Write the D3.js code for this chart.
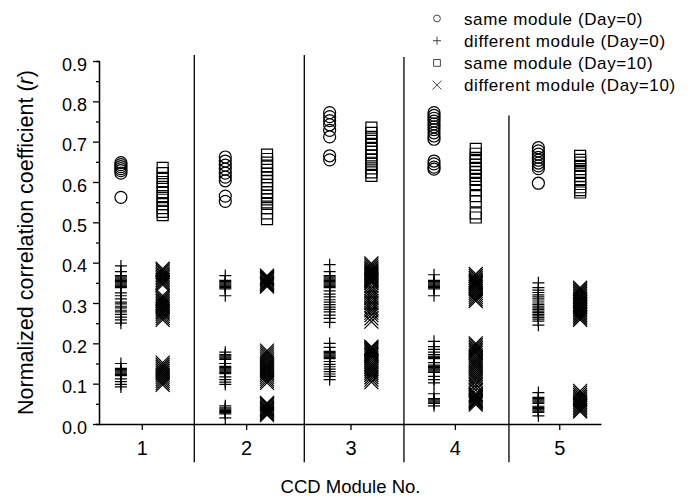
<!DOCTYPE html>
<html>
<head>
<meta charset="utf-8">
<script src="https://cdn.jsdelivr.net/npm/d3@7"></script>
<style>
    body { margin: 0; background: #fff; }
    text { font-family: "Liberation Sans", Arial, sans-serif; fill: #000; }
</style>
</head>
<body>
<div id="chart"></div>
<script>

// CCD modules on the x axis
let modules = [1, 2, 3, 4, 5];

// one list of r values per module
let sameDay0 = [
    [0.648, 0.643, 0.638, 0.633, 0.628, 0.622, 0.562],
    [0.662, 0.652, 0.642, 0.632, 0.622, 0.612, 0.603, 0.565, 0.552],
    [0.772, 0.762, 0.752, 0.742, 0.728, 0.712, 0.665, 0.655],
    [0.772, 0.765, 0.758, 0.751, 0.744, 0.737, 0.730, 0.722, 0.714, 0.706, 0.652, 0.645, 0.637, 0.632],
    [0.685, 0.677, 0.669, 0.661, 0.654, 0.647, 0.640, 0.633, 0.597]
];

let diffDay0 = [
    [0.392, 0.378, 0.368, 0.365, 0.362, 0.359, 0.356, 0.353, 0.350, 0.347, 0.344, 0.341, 0.338, 0.325, 0.318, 0.310, 0.302,
     0.298, 0.292, 0.288, 0.282, 0.278, 0.272, 0.265, 0.258, 0.250,
     0.150, 0.138, 0.135, 0.132, 0.129, 0.126, 0.123, 0.120, 0.112, 0.105, 0.098, 0.092],
    [0.368, 0.356, 0.353, 0.350, 0.347, 0.344, 0.341, 0.338, 0.335, 0.318,
     0.178, 0.172, 0.169, 0.166, 0.163, 0.160, 0.150, 0.143, 0.140, 0.137, 0.134, 0.131, 0.128, 0.125, 0.117, 0.110, 0.104, 0.098,
     0.045, 0.040, 0.037, 0.034, 0.031, 0.028, 0.025, 0.015],
    [0.395, 0.378, 0.368, 0.365, 0.362, 0.359, 0.356, 0.353, 0.350, 0.347, 0.344, 0.341, 0.338, 0.330, 0.322, 0.315, 0.308,
     0.302, 0.296, 0.290, 0.284, 0.278, 0.270, 0.262, 0.252,
     0.200, 0.190, 0.180, 0.177, 0.174, 0.171, 0.168, 0.165, 0.162, 0.155, 0.148, 0.142, 0.136, 0.130, 0.124, 0.118, 0.110],
    [0.370, 0.356, 0.353, 0.350, 0.347, 0.344, 0.341, 0.338, 0.335, 0.318,
     0.205, 0.192, 0.185, 0.178, 0.172, 0.168, 0.165, 0.162, 0.152, 0.146, 0.143, 0.140, 0.137, 0.134, 0.131, 0.128, 0.118, 0.110, 0.102,
     0.075, 0.063, 0.060, 0.057, 0.054, 0.051, 0.045],
    [0.350, 0.338, 0.332, 0.326, 0.320, 0.315, 0.310, 0.305, 0.300, 0.296, 0.292, 0.288, 0.284, 0.280, 0.276, 0.272, 0.268,
     0.264, 0.260, 0.255, 0.245,
     0.078, 0.066, 0.063, 0.060, 0.057, 0.054, 0.051, 0.044, 0.041, 0.038, 0.035, 0.032, 0.029, 0.020]
];

let sameDay10 = [
    [0.635, 0.622, 0.610, 0.600, 0.588, 0.575, 0.565, 0.556, 0.545, 0.535, 0.526, 0.518],
    [0.668, 0.657, 0.648, 0.638, 0.630, 0.620, 0.612, 0.602, 0.593, 0.585, 0.575, 0.566, 0.557, 0.546, 0.535, 0.522, 0.508],
    [0.735, 0.722, 0.712, 0.702, 0.692, 0.682, 0.675, 0.666, 0.656, 0.645, 0.634, 0.624, 0.615],
    [0.682, 0.670, 0.660, 0.652, 0.643, 0.635, 0.625, 0.615, 0.605, 0.595, 0.580, 0.565, 0.552, 0.522, 0.512],
    [0.665, 0.655, 0.648, 0.640, 0.632, 0.625, 0.615, 0.605, 0.595, 0.587, 0.580, 0.574]
];

let diffDay10 = [
    [0.385, 0.381, 0.377, 0.373, 0.369, 0.365, 0.361, 0.357, 0.353, 0.349, 0.345, 0.318, 0.313, 0.309, 0.305, 0.301, 0.297,
     0.293, 0.289, 0.285, 0.281, 0.277, 0.273, 0.268, 0.263, 0.258,
     0.152, 0.147, 0.142, 0.137, 0.132, 0.127, 0.122, 0.117, 0.112, 0.107, 0.102, 0.097],
    [0.368, 0.365, 0.362, 0.359, 0.356, 0.353, 0.350, 0.347, 0.344, 0.341,
     0.182, 0.177, 0.172, 0.167, 0.162, 0.157, 0.152, 0.147, 0.142, 0.137, 0.132, 0.127, 0.122, 0.117, 0.112, 0.107, 0.102,
     0.052, 0.049, 0.046, 0.043, 0.040, 0.037, 0.034, 0.031, 0.028, 0.025, 0.022],
    [0.398, 0.393, 0.388, 0.384, 0.381, 0.378, 0.375, 0.372, 0.369, 0.366, 0.363, 0.360, 0.357, 0.354, 0.350, 0.343, 0.336,
     0.330, 0.324, 0.318, 0.312, 0.306, 0.300, 0.294, 0.288, 0.282, 0.276, 0.270, 0.262, 0.254,
     0.192, 0.189, 0.186, 0.183, 0.180, 0.177, 0.174, 0.171, 0.168, 0.163, 0.157, 0.152, 0.147, 0.142, 0.137, 0.132, 0.127,
     0.122, 0.116, 0.110, 0.104],
    [0.372, 0.367, 0.362, 0.358, 0.355, 0.352, 0.349, 0.346, 0.343, 0.340, 0.335, 0.330, 0.325, 0.320, 0.315, 0.310, 0.305,
     0.200, 0.196, 0.192, 0.188, 0.184, 0.180, 0.176, 0.170, 0.165, 0.160, 0.155, 0.150, 0.145, 0.140, 0.135, 0.130, 0.125,
     0.120, 0.115, 0.110, 0.105, 0.098, 0.091, 0.084,
     0.075, 0.072, 0.069, 0.066, 0.063, 0.060, 0.057, 0.054, 0.051, 0.048],
    [0.338, 0.334, 0.330, 0.326, 0.322, 0.318, 0.314, 0.310, 0.306, 0.302, 0.298, 0.294, 0.290, 0.286, 0.282, 0.278, 0.274,
     0.270, 0.266, 0.262, 0.258,
     0.082, 0.077, 0.072, 0.067, 0.063, 0.059, 0.055, 0.051, 0.047, 0.043, 0.039, 0.035, 0.031]
];

// y ticks
let yTicks = [0.0, 0.1, 0.2, 0.3, 0.4, 0.5, 0.6, 0.7, 0.8, 0.9];

// separator lines between modules: x position, top (both in data units)
let dividers = [[1.503, 0.915], [2.557, 0.915], [3.512, 0.91], [4.518, 0.765]];

let legendLabels = ["same module (Day=0)", "different module (Day=0)", "same module (Day=10)", "different module (Day=10)"];


class ModuleScatter {

    constructor(parentElement) {
        this.parentElement = parentElement;
        this.initVis();
    }

    initVis() {
        let vis = this;

        vis.width = 694;
        vis.height = 496;

        vis.svg = d3.select("#" + vis.parentElement).append("svg")
            .attr("width", vis.width)
            .attr("height", vis.height);

        // scales
        vis.x = d3.scaleLinear()
            .domain([0.59, 5.4])
            .range([99, 601]);

        vis.y = d3.scaleLinear()
            .domain([0, 0.9])
            .range([424, 61]);

        vis.offset = 0.2;   // day 0 left of tick, day 10 right of tick

        // x axis
        vis.xAxis = d3.axisBottom(vis.x)
            .tickValues(modules)
            .tickFormat(d3.format("d"))
            .tickSize(6)
            .tickSizeOuter(0)
            .tickPadding(11);

        vis.svg.append("g")
            .attr("class", "x-axis axis")
            .attr("transform", "translate(0," + vis.y(0) + ")")
            .call(vis.xAxis);

        vis.svg.selectAll(".x-axis text")
            .attr("font-size", 20);

        // y axis, major and minor
        vis.yAxis = d3.axisLeft(vis.y)
            .tickValues(yTicks)
            .tickFormat(d3.format(".1f"))
            .tickSize(6)
            .tickSizeOuter(0)
            .tickPadding(6);

        vis.svg.append("g")
            .attr("class", "y-axis-minor axis")
            .attr("transform", "translate(" + vis.x(0.59) + ",0)")
            .call(d3.axisLeft(vis.y).tickValues(yTicks.slice(0, -1).map(d => d + 0.05)).tickSize(3).tickFormat(""));

        vis.svg.append("g")
            .attr("class", "y-axis axis")
            .attr("transform", "translate(" + vis.x(0.59) + ",0)")
            .call(vis.yAxis);

        vis.svg.selectAll(".y-axis text")
            .attr("font-size", 18)
            .attr("dy", "0.5em");

        vis.svg.selectAll(".axis path, .axis line")
            .attr("stroke", "#000")
            .attr("stroke-width", 1.3);

        vis.svg.selectAll(".axis text")
            .attr("font-family", "Liberation Sans, Arial, sans-serif");

        // dividers
        vis.svg.selectAll(".divider")
            .data(dividers)
            .enter().append("line")
            .attr("class", "divider")
            .attr("x1", d => vis.x(d[0]))
            .attr("x2", d => vis.x(d[0]))
            .attr("y1", d => vis.y(d[1]))
            .attr("y2", vis.y(-0.095))
            .attr("stroke", "#000")
            .attr("stroke-width", 1.3);

        // axis titles
        vis.svg.append("text")
            .attr("x", vis.x(3))
            .attr("y", 493)
            .attr("text-anchor", "middle")
            .attr("font-size", 18.5)
            .text("CCD Module No.");

        let yTitle = vis.svg.append("text")
            .attr("transform", "translate(33," + vis.y(0.45) + ") rotate(-90)")
            .attr("text-anchor", "middle")
            .attr("font-size", 21.5);
        yTitle.append("tspan").text("Normalized correlation coefficient (");
        yTitle.append("tspan").attr("font-style", "italic").text("r");
        yTitle.append("tspan").text(")");

        // marker shapes
        vis.shapes = [
            r => "M" + r + ",0A" + r + "," + r + " 0 1,1 " + (-r) + ",0A" + r + "," + r + " 0 1,1 " + r + ",0Z",
            r => "M" + (-r) + ",0H" + r + "M0," + (-r) + "V" + r,
            r => "M" + (-r) + "," + (-r) + "H" + r + "V" + r + "H" + (-r) + "Z",
            r => "M" + (-r) + "," + (-r) + "L" + r + "," + r + "M" + (-r) + "," + r + "L" + r + "," + (-r)
        ];
        vis.sizes = [6, 6, 5.5, 7];

        vis.wrangleData();
    }

    wrangleData() {
        let vis = this;

        vis.displayData = [];
        let series = [sameDay0, diffDay0, sameDay10, diffDay10];

        series.forEach(function (s, k) {
            s.forEach(function (vals, i) {
                vals.forEach(function (v) {
                    vis.displayData.push({
                        type: k,
                        module: modules[i] + (k < 2 ? -vis.offset : vis.offset),
                        r: v
                    });
                });
            });
        });

        vis.updateVis();
    }

    updateVis() {
        let vis = this;

        vis.svg.append("g")
            .selectAll(".marker")
            .data(vis.displayData)
            .enter().append("path")
            .attr("class", "marker")
            .attr("transform", d => "translate(" + vis.x(d.module) + "," + vis.y(d.r) + ")")
            .attr("d", d => vis.shapes[d.type](vis.sizes[d.type]))
            .attr("fill", "none")
            .attr("stroke", "#000")
            .attr("stroke-width", 1.2);

        // legend
        let legend = vis.svg.append("g")
            .attr("transform", "translate(437,0)");

        let rows = legend.selectAll(".legend-row")
            .data(legendLabels)
            .enter().append("g")
            .attr("class", "legend-row")
            .attr("transform", (d, i) => "translate(0," + (18.5 + i * 22.2) + ")");

        rows.append("path")
            .attr("d", (d, i) => vis.shapes[i]([3.4, 4, 3.4, 4.5][i]))
            .attr("fill", "none")
            .attr("stroke", "#333")
            .attr("stroke-width", 0.9);

        rows.append("text")
            .attr("x", 27)
            .attr("y", 6)
            .attr("font-family", "DejaVu Sans, sans-serif")
            .attr("font-size", 17)
            .attr("letter-spacing", 0.6)
            .text(d => d);
    }
}

new ModuleScatter("chart");

</script>
</body>
</html>
